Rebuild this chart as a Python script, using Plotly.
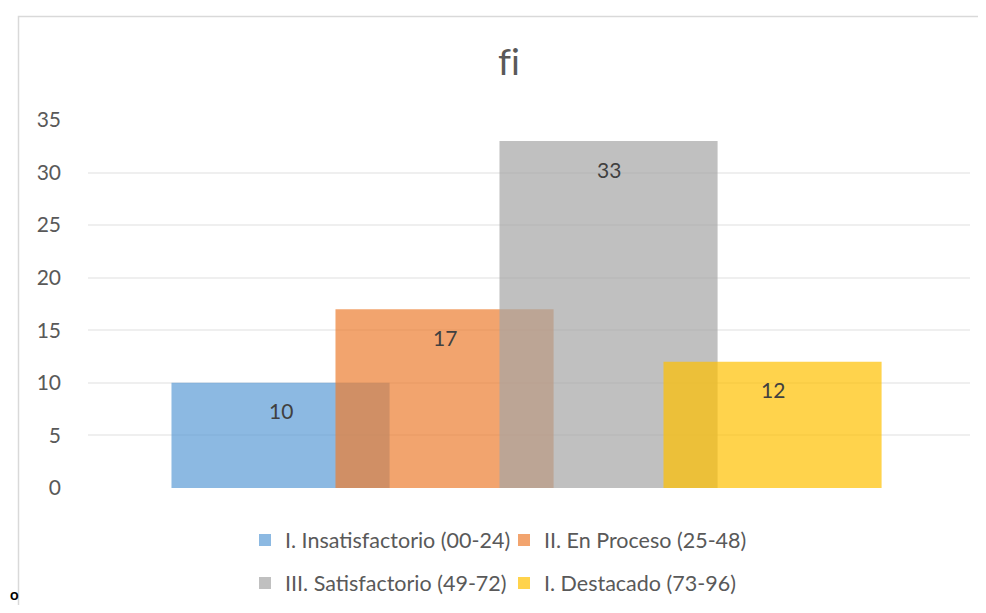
import plotly.graph_objects as go

# Data
series_names = [
    "I. Insatisfactorio (00-24)",
    "II. En Proceso (25-48)",
    "III. Satisfactorio (49-72)",
    "I. Destacado (73-96)",
]
values = [10, 17, 33, 12]
colors = [
    "rgba(91,155,213,0.7)",
    "rgba(237,125,49,0.7)",
    "rgba(165,165,165,0.7)",
    "rgba(255,192,0,0.7)",
]
legend_groups = ["legend", "legend", "legend2", "legend2"]
title_text = "f\u200ci"
y_ticks = [0, 5, 10, 15, 20, 25, 30, 35]

FONT = "Lato"
OFF = 8  # page body margin
W, H = 986 - 2 * OFF, 613 - 2 * OFF
PL, PR, PT, PB = 88, 970, 120, 488  # plot area in reference pixels
ML = PL - OFF
MR = W - (PR - OFF)
MT = PT - OFF
MB = H - (PB - OFF)
PW = PR - PL
PH = PB - PT

def px_x(px):
    return (px - PL) / PW

def px_y(py):
    return (PB - py) / PH

def cx(px):
    return (px - OFF) / W

def cy(py):
    return 1 - (py - OFF) / H

fig = go.Figure()
for name, val, col, lg in zip(series_names, values, colors, legend_groups):
    fig.add_trace(go.Bar(
        x=[name], y=[val], name=name,
        marker=dict(color=col, line=dict(width=0)),
        width=1.33, legend=lg, hoverinfo="skip",
    ))

annotations = []
for name, val in zip(series_names, values):
    annotations.append(dict(
        x=name, y=val, xref="x", yref="y", text=str(val), showarrow=False,
        yshift=-28, font=dict(family=FONT, size=21, color="#404040"),
    ))
annotations.append(dict(
    x=px_x(14), y=px_y(605), xref="paper", yref="paper", text="<b>o</b>",
    showarrow=False, xanchor="center", yanchor="bottom",
    font=dict(family=FONT, size=15, color="#000000"),
))

legend_common = dict(
    orientation="h", xanchor="left", yanchor="middle",
    xref="container", yref="container",
    font=dict(family=FONT, size=21.5, color="#595959"),
    bgcolor="rgba(0,0,0,0)", itemclick=False, itemdoubleclick=False,
    tracegroupgap=0, itemwidth=30, entrywidth=214, entrywidthmode="pixels",
)

fig.update_layout(
    width=W, height=H,
    margin=dict(l=ML, r=MR, t=MT, b=MB, pad=0, autoexpand=False),
    paper_bgcolor="white", plot_bgcolor="white",
    barmode="overlay",
    showlegend=True,
    title=dict(text=title_text, x=cx(509), xanchor="center",
               y=cy(62), yanchor="middle",
               font=dict(family=FONT, size=37, color="#595959")),
    xaxis=dict(type="category", categoryorder="array", categoryarray=series_names,
               range=[-1.174, 4.204], showticklabels=False, showgrid=False,
               zeroline=False, showline=False, ticks=""),
    yaxis=dict(range=[0, 35], tickvals=y_ticks, showgrid=True, gridcolor="#EFEFEF",
               gridwidth=1.5, zeroline=False, showline=False, ticks="",
               ticklabelstandoff=26,
               tickfont=dict(family=FONT, size=21, color="#595959")),
    legend=dict(x=cx(245), y=cy(540), **legend_common),
    legend2=dict(x=cx(245), y=cy(583), **legend_common),
    annotations=annotations,
    shapes=[dict(type="rect", xref="paper", yref="paper",
                 x0=px_x(18.5), x1=px_x(985.5), y0=px_y(640), y1=px_y(16.5),
                 line=dict(color="#D9D9D9", width=1.5), fillcolor="rgba(0,0,0,0)",
                 layer="below")],
)

fig.write_html("out.html")
